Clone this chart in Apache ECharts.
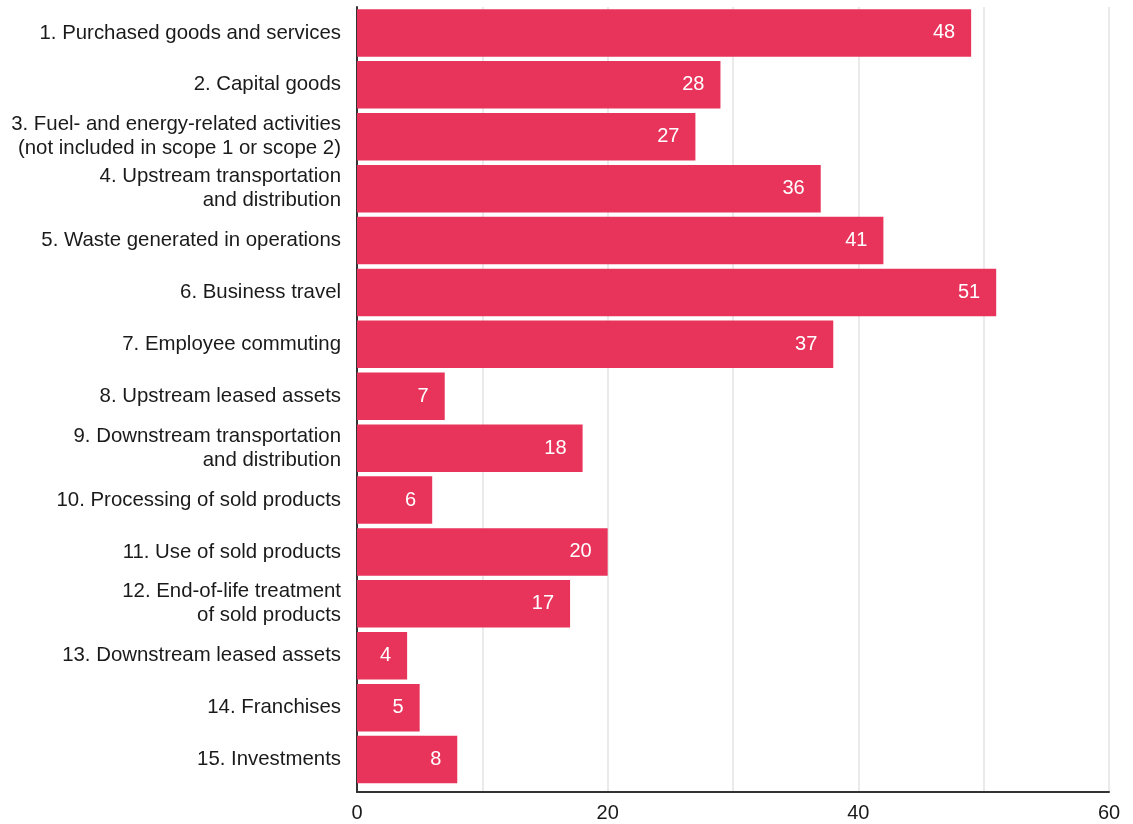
<!DOCTYPE html>
<html>
<head>
<meta charset="utf-8">
<script src="https://cdn.jsdelivr.net/npm/echarts@6/dist/echarts.min.js"></script>
<style>
  html, body { margin: 0; padding: 0; background: #ffffff; }
  #chart { width: 1133px; height: 824px; }
</style>
</head>
<body>
<div id="chart"></div>
<script>
// Categories (GHG Protocol scope 3 categories)
var categories = [
  "1. Purchased goods and services",
  "2. Capital goods",
  "3. Fuel- and energy-related activities\n(not included in scope 1 or scope 2)",
  "4. Upstream transportation\nand distribution",
  "5. Waste generated in operations",
  "6. Business travel",
  "7. Employee commuting",
  "8. Upstream leased assets",
  "9. Downstream transportation\nand distribution",
  "10. Processing of sold products",
  "11. Use of sold products",
  "12. End-of-life treatment\nof sold products",
  "13. Downstream leased assets",
  "14. Franchises",
  "15. Investments"
];
// Bar lengths as drawn
var barValues = [49, 29, 27, 37, 42, 51, 38, 7, 18, 6, 20, 17, 4, 5, 8];
// Value labels as printed on the bars
var barLabels = [48, 28, 27, 36, 41, 51, 37, 7, 18, 6, 20, 17, 4, 5, 8];
// Axis
var axisMin = 0, axisMax = 60, gridStep = 10, labelStep = 20;

var FONT = "'Helvetica Neue', Helvetica, 'Liberation Sans', Arial, sans-serif";
var BAR_COLOR = '#E8345B';

var chart = echarts.init(document.getElementById('chart'), null, { renderer: 'canvas' });

var seriesData = barValues.map(function (v, i) {
  return { value: v, label: { formatter: String(barLabels[i]) } };
});

var option = {
  backgroundColor: '#ffffff',
  animation: false,
  grid: [
    // axes frame grid
    { left: 357, right: 24, top: 7, bottom: 32, containLabel: false },
    // bars grid
    { left: 357, right: 24, top: 7, bottom: 38.5, containLabel: false }
  ],
  xAxis: [
    {
      gridIndex: 0, type: 'value', min: axisMin, max: axisMax, interval: gridStep,
      axisLine: { show: true, lineStyle: { color: '#333333', width: 2 } },
      axisTick: { show: false },
      splitLine: { show: true, lineStyle: { color: '#e3e3e3', width: 1.5 } },
      axisLabel: {
        margin: 11, fontSize: 20, color: '#1a1a1a', fontFamily: FONT,
        formatter: function (v) { return v % labelStep === 0 ? String(v) : ''; }
      }
    },
    {
      gridIndex: 1, type: 'value', min: axisMin, max: axisMax, interval: gridStep,
      show: false
    }
  ],
  yAxis: [
    {
      gridIndex: 0, type: 'value', min: 0, max: 1,
      axisLine: { show: true, lineStyle: { color: '#333333', width: 2 } },
      axisTick: { show: false },
      axisLabel: { show: false },
      splitLine: { show: false }
    },
    {
      gridIndex: 1, type: 'category', data: categories, inverse: true,
      axisLine: { show: false },
      axisTick: { show: false },
      splitLine: { show: false },
      axisLabel: {
        margin: 16, fontSize: 20.4, lineHeight: 24, color: '#1a1a1a', fontFamily: FONT,
        align: 'right'
      }
    }
  ],
  series: [
    {
      type: 'bar',
      xAxisIndex: 1, yAxisIndex: 1,
      data: seriesData,
      barCategoryGap: '8.5%',
      itemStyle: { color: BAR_COLOR },
      label: {
        show: true, position: 'insideRight', distance: 16,
        color: '#ffffff', fontSize: 20, fontFamily: FONT
      }
    }
  ]
};

chart.setOption(option);
</script>
</body>
</html>
